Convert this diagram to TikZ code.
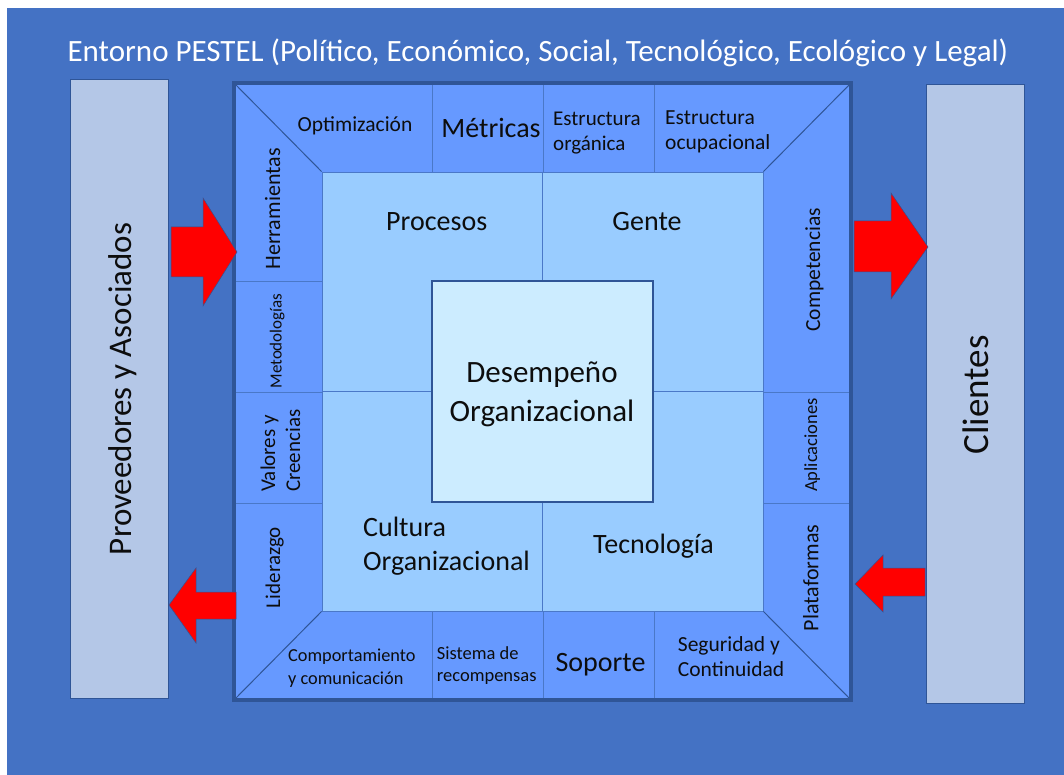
\documentclass[tikz,border=0pt]{standalone}
\usepackage{fontspec}
\setmainfont{Carlito}
\definecolor{bgblue}{HTML}{4472C4}
\definecolor{sidefill}{HTML}{B4C7E7}
\definecolor{framefill}{HTML}{6699FF}
\definecolor{innerfill}{HTML}{99CCFF}
\definecolor{corefill}{HTML}{CCECFF}
\definecolor{darkedge}{HTML}{2F5597}
\definecolor{thinedge}{HTML}{4A78C8}
\definecolor{ink}{HTML}{0D0D0D}
\tikzset{
  sz/.style={font=\fontsize{#1}{#1}\selectfont},
  lbl/.style={inner sep=0pt, text=ink},
  sidebox/.style={draw=darkedge, line width=1pt, fill=sidefill, inner sep=0pt},
  blockarrow/.style={fill=red, draw=darkedge, line width=0.5pt, line join=miter},
  divider/.style={draw=thinedge, line width=0.9pt},
}
\begin{document}
\begin{tikzpicture}[x=1pt,y=-1pt]
\useasboundingbox (0,0) rectangle (1064,775);
\fill[white] (0,0) rectangle (1064,775);
\fill[bgblue] (7,8) rectangle (1064,775);

% title
\node[lbl, text=white, sz=31, anchor=base] (title) at (538,62)
  {Entorno PESTEL (Político, Económico, Social, Tecnológico, Ecológico y Legal)};

% side boxes
\node[sidebox, minimum width=98, minimum height=618] (prov) at (119,389) {};
\node[sidebox, minimum width=98, minimum height=618] (cli) at (975,394) {};
\node[lbl, sz=33, rotate=90, anchor=base] (provt) at (131,389) {Proveedores y Asociados};
\node[lbl, sz=37, rotate=90, anchor=base] (clit) at (988,395) {Clientes};

% frame, inner square and core
\node[fill=framefill, minimum width=617, minimum height=617, inner sep=0pt] (frame) at (542.5,391.5) {};
\node[fill=innerfill, draw=thinedge, line width=0.9pt, minimum width=441, minimum height=439, inner sep=0pt] (inner) at (542.5,391.5) {};

% band dividers
\draw[divider] (432,83) -- (432,172) (543,83) -- (543,172) (654,83) -- (654,172);
\draw[divider] (432,611) -- (432,700) (543,611) -- (543,700) (654,611) -- (654,700);
\draw[divider] (234,281) -- (322,281) (234,392) -- (322,392) (234,503) -- (322,503);
\draw[divider] (763,392) -- (851,392) (763,503) -- (851,503);
% quadrant dividers
\draw[divider] (inner.north) -- (inner.south) (inner.west) -- (inner.east);

\node[fill=corefill, draw=darkedge, line width=1.2pt, minimum width=221, minimum height=221, inner sep=0pt] (core) at (542.5,391.5) {};

% corner diagonals
\draw[darkedge, line width=1pt] (frame.north west) -- (inner.north west)
  (frame.north east) -- (inner.north east)
  (frame.south west) -- (inner.south west)
  (frame.south east) -- (inner.south east);
\node[draw=darkedge, line width=3.5pt, minimum width=617, minimum height=617, inner sep=0pt] (frameedge) at (542.5,391.5) {};

% block arrows
\filldraw[blockarrow] (171,227) -- (203,227) -- (203,198) -- (237,252) -- (203,306) -- (203,277) -- (171,277) -- cycle;
\filldraw[blockarrow] (236,592) -- (196,592) -- (196,568) -- (169,605) -- (196,643) -- (196,619) -- (236,619) -- cycle;
\filldraw[blockarrow] (854,221) -- (891,221) -- (891,193) -- (928,247) -- (891,299) -- (891,272) -- (854,272) -- cycle;
\filldraw[blockarrow] (925,568) -- (883,568) -- (883,555) -- (855,584) -- (883,612) -- (883,596) -- (925,596) -- cycle;

% top band
\node[lbl, sz=21.5, anchor=base] (optim) at (355,132) {Optimización};
\node[lbl, sz=28, anchor=base] (metr) at (491,137.7) {Métricas};
\node[lbl, sz=21, anchor=base west] (eorg1) at (553,125.7) {Estructura};
\node[lbl, sz=21, anchor=base west] (eorg2) at (553,151) {orgánica};
\node[lbl, sz=21.5, anchor=base west] (eocu1) at (665,125) {Estructura};
\node[lbl, sz=21.5, anchor=base west] (eocu2) at (665,150) {ocupacional};

% left band
\node[lbl, sz=22, rotate=90, anchor=base] (herr) at (280,209) {Herramientas};
\node[lbl, sz=17, rotate=90, anchor=base] (metod) at (281.5,341) {Metodologías};
\node[lbl, sz=21, rotate=90, anchor=base west] (val1) at (275,492) {Valores y};
\node[lbl, sz=21, rotate=90, anchor=base west] (val2) at (300,492) {Creencias};
\node[lbl, sz=21, rotate=90, anchor=base] (lider) at (280,567.5) {Liderazgo};

% right band
\node[lbl, sz=21.5, rotate=90, anchor=base] (comp) at (820,270) {Competencias};
\node[lbl, sz=18.5, rotate=90, anchor=base] (aplic) at (817,445) {Aplicaciones};
\node[lbl, sz=22, rotate=90, anchor=base] (plat) at (818.3,578) {Plataformas};

% quadrants and core
\node[lbl, sz=28, anchor=base] (proc) at (436.7,231) {Procesos};
\node[lbl, sz=28, anchor=base] (gente) at (647,231) {Gente};
\node[lbl, sz=31, anchor=base] (des1) at (542,382.7) {Desempeño};
\node[lbl, sz=31, anchor=base] (des2) at (542,421) {Organizacional};
\node[lbl, sz=28, anchor=base west] (cult1) at (363,536.7) {Cultura};
\node[lbl, sz=28, anchor=base west] (cult2) at (363,570.7) {Organizacional};
\node[lbl, sz=28, anchor=base] (tecno) at (653.5,553.3) {Tecnología};

% bottom band
\node[lbl, sz=18.3, anchor=base west] (compo1) at (288,661.7) {Comportamiento};
\node[lbl, sz=18.3, anchor=base west] (compo2) at (288,684) {y comunicación};
\node[lbl, sz=18.5, anchor=base west] (sist1) at (436.7,659) {Sistema de};
\node[lbl, sz=18.5, anchor=base west] (sist2) at (436.7,681) {recompensas};
\node[lbl, sz=28, anchor=base] (sop) at (600.5,671) {Soporte};
\node[lbl, sz=21.5, anchor=base west] (seg1) at (677.7,651.7) {Seguridad y};
\node[lbl, sz=21.5, anchor=base west] (seg2) at (677.7,676.7) {Continuidad};
\end{tikzpicture}
\end{document}
